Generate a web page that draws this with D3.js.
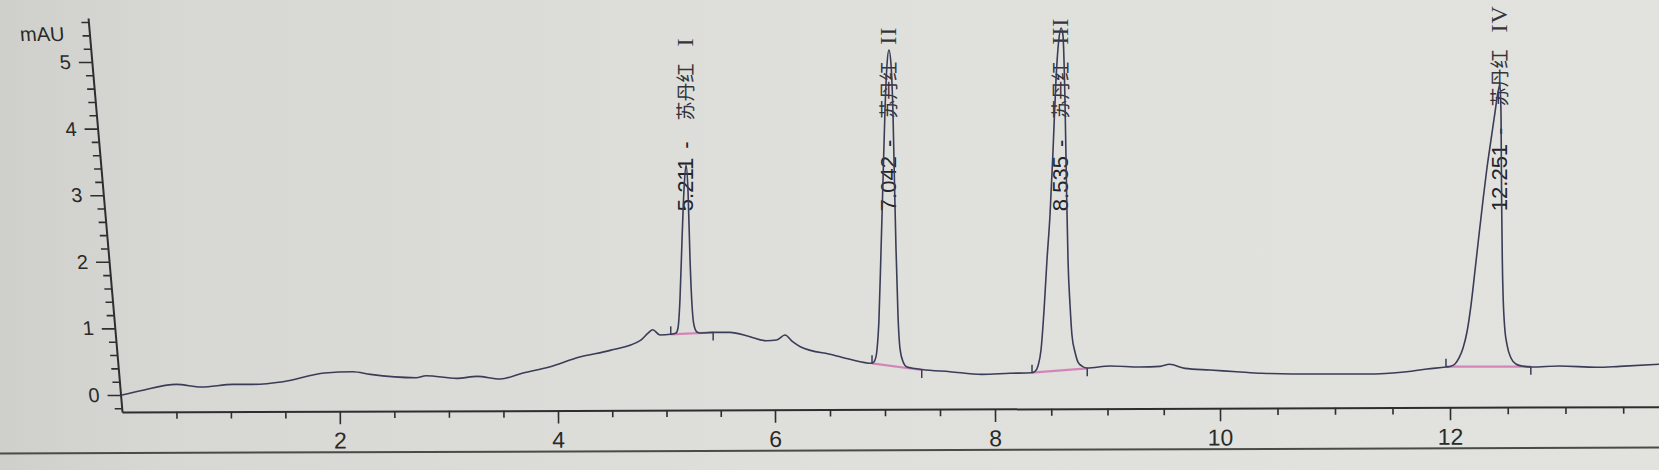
<!DOCTYPE html>
<html><head><meta charset="utf-8">
<script src="https://cdn.jsdelivr.net/npm/d3@7"></script>
<style>html,body{margin:0;padding:0;background:#dcddd8;overflow:hidden}</style>
</head><body>
<svg id="chart" width="1659" height="470"></svg>
<script>
// ---- data ----
const timeMajorTicks = [2, 4, 6, 8, 10, 12];
const timeMinorTicks = [0.5, 1, 1.5, 2.5, 3, 3.5, 4.5, 5, 5.5, 6.5, 7, 7.5, 8.5, 9, 9.5, 10.5, 11, 11.5, 12.5, 13, 13.5];
const absMajorTicks = [0, 1, 2, 3, 4, 5];
const absMinorTicks = [-0.2, 0.2, 0.4, 0.6, 0.8, 1.2, 1.4, 1.6, 1.8, 2.2, 2.4, 2.6, 2.8, 3.2, 3.4, 3.6, 3.8, 4.2, 4.4, 4.6, 4.8, 5.2, 5.4, 5.6];
const yUnit = "mAU";

// chromatogram signal: [time (min), absorbance (mAU)]
const signal = [
  [0.00,0.00],[0.17,0.065],[0.50,0.16],[0.73,0.12],[1.02,0.16],[1.20,0.16],[1.48,0.20],[1.86,0.33],
  [2.12,0.35],[2.28,0.31],[2.70,0.26],[2.79,0.29],[3.07,0.25],[3.26,0.28],[3.47,0.24],[3.68,0.33],
  [3.92,0.42],[4.20,0.57],[4.48,0.67],[4.76,0.82],[4.83,0.93],[4.873,0.98],[4.94,0.90],
  [5.039,0.911],[5.088,0.931],[5.106,1.006],[5.124,1.426],[5.143,2.327],[5.161,3.078],[5.180,3.453],
  [5.198,3.078],[5.217,2.027],[5.235,1.351],[5.253,1.051],[5.281,0.946],[5.309,0.931],
  [5.43,0.94],[5.585,0.94],[5.77,0.875],[5.92,0.815],[6.015,0.826],[6.09,0.90],[6.16,0.80],
  [6.23,0.725],[6.53,0.60],[6.68,0.536],
  [6.882,0.476],[6.909,0.526],[6.927,0.676],[6.945,1.126],[6.964,2.177],[6.982,3.228],[7.000,4.279],
  [7.018,4.955],[7.036,5.180],[7.055,4.955],[7.073,4.20],[7.086,3.20],[7.100,2.20],[7.118,1.20],
  [7.136,0.70],[7.164,0.50],[7.200,0.42],[7.273,0.398],[7.336,0.383],
  [7.591,0.35],[7.879,0.31],[8.133,0.326],
  [8.329,0.335],[8.356,0.353],[8.382,0.435],[8.409,0.676],[8.436,1.276],[8.462,2.027],[8.489,2.703],
  [8.516,3.679],[8.542,4.730],[8.569,5.360],[8.587,5.511],[8.604,5.405],[8.622,4.429],[8.636,3.078],
  [8.649,2.027],[8.667,1.351],[8.684,0.901],[8.711,0.646],[8.738,0.495],[8.773,0.435],[8.818,0.405],
  [9.022,0.435],[9.289,0.42],[9.467,0.43],[9.552,0.461],[9.689,0.40],[9.911,0.375],[10.144,0.35],
  [10.365,0.326],[10.817,0.315],[11.265,0.315],[11.623,0.35],[11.80,0.39],
  [11.965,0.42],[12.000,0.428],[12.043,0.465],[12.078,0.556],[12.113,0.706],[12.147,0.946],
  [12.182,1.351],[12.217,1.877],[12.251,2.402],[12.286,2.928],[12.320,3.408],[12.355,3.829],
  [12.390,4.249],[12.416,4.55],[12.433,4.66],[12.442,4.20],[12.447,2.928],[12.453,2.027],
  [12.461,1.426],[12.472,1.051],[12.494,0.751],[12.528,0.556],[12.571,0.465],[12.623,0.435],
  [12.710,0.420],[12.95,0.435],[13.27,0.416],[13.47,0.43],[13.81,0.461]
];

// integration baseline start / end points [time, mAU]
const integStart = [[5.039,0.911],[6.882,0.476],[8.329,0.335],[11.965,0.425]];
const integEnd   = [[5.43,0.94],[7.334,0.375],[8.82,0.40],[12.70,0.425]];

// peak annotations
const peakRT = ["5.211", "7.042", "8.535", "12.251"];
const peakName = ["苏丹红", "苏丹红", "苏丹红", "苏丹红"];
const peakNumeral = ["I", "II", "III", "IV"];

// ---- drawing ----
const W = 1659, H = 470;
const svg = d3.select("#chart");
const LABEL_LEVEL = 2.76;

// background (photographed paper)
const defs = svg.append("defs");
const grad = defs.append("linearGradient").attr("id","bg").attr("x1","0").attr("x2","1").attr("y1","0").attr("y2","0");
[[0,"#cfd0cb"],[0.1,"#d7d8d3"],[0.5,"#dfe0db"],[1,"#e2e3de"]].forEach(s =>
  grad.append("stop").attr("offset", s[0]).attr("stop-color", s[1]));
svg.append("rect").attr("width", W).attr("height", H).attr("fill", "url(#bg)");

const x = d3.scaleLinear().domain([0,2,4,6,8,10,12,13.81]).range([122,339.8,558,775,995,1220,1450,1659]);
const y = d3.scaleLinear().domain([0,5]).range([395,62]);
const axisY0 = 412;
const yAxisScale = d3.scaleLinear().domain([y.invert(axisY0), 5.66]).range([axisY0, y(5.66)]);

const ink = "#2e2e30";
const tickFont = "'Liberation Sans', Arial, sans-serif";

// x axis (slightly tilted like the photo)
const gx = svg.append("g").attr("transform", `rotate(-0.2,122,${axisY0}) translate(0,${axisY0})`);
gx.append("g").call(d3.axisBottom(x).tickValues(timeMinorTicks).tickSize(7).tickSizeOuter(0).tickFormat(""));
const gxMajor = gx.append("g").call(d3.axisBottom(x).tickValues(timeMajorTicks).tickSize(13).tickSizeOuter(0).tickPadding(8).tickFormat(d3.format("d")));
gxMajor.select(".domain").remove();
gx.selectAll(".domain").attr("stroke", ink).attr("stroke-width", 2);
gx.selectAll(".tick line").attr("stroke", ink).attr("stroke-width", 1.6);
gx.selectAll(".tick text").attr("fill", "#2a2a2a").style("font-family", tickFont).style("font-size", "23px");

// y axis (leaning like the photo)
const gy = svg.append("g").attr("transform", `translate(122,${axisY0}) skewX(4.93) translate(-122,${-axisY0})`);
const gyIn = gy.append("g").attr("transform", "translate(122,0)");
gyIn.append("g").call(d3.axisLeft(yAxisScale).tickValues(absMinorTicks).tickSize(7).tickSizeOuter(0).tickFormat(""));
const gyMajor = gyIn.append("g").call(d3.axisLeft(yAxisScale).tickValues(absMajorTicks).tickSize(13).tickSizeOuter(0).tickPadding(8).tickFormat(d3.format("d")));
gyMajor.select(".domain").remove();
gyIn.selectAll(".domain").attr("stroke", ink).attr("stroke-width", 2);
gyIn.selectAll(".tick line").attr("stroke", ink).attr("stroke-width", 1.6);
gyIn.selectAll(".tick text").attr("fill", "#2a2a2a").style("font-family", tickFont).style("font-size", "20px");
gyIn.append("text").attr("x", -25).attr("y", 41).attr("text-anchor", "end")
  .attr("fill", "#2a2a2a").style("font-family", tickFont).style("font-size", "20px").text(yUnit);

// bottom frame line of the printout
svg.append("line").attr("x1", 0).attr("y1", 453.5).attr("x2", W).attr("y2", 447.5)
  .attr("stroke", "#4a4a48").attr("stroke-width", 2);

// peak labels
const gl = svg.append("g");
peakRT.forEach((rt, i) => {
  const s = integStart[i][0], e = integEnd[i][0];
  const apex = signal.filter(d => d[0] >= s && d[0] <= e).reduce((a, b) => b[1] > a[1] ? b : a);
  const t = gl.append("text")
    .attr("transform", `translate(${x(apex[0]) - 1},${y(LABEL_LEVEL)}) rotate(-90)`)
    .attr("fill", "#23232b");
  t.append("tspan").attr("dy", "0.36em").style("font-family", tickFont).style("font-size", "22px").text(rt);
  t.append("tspan").attr("dx", 9).style("font-family", tickFont).style("font-size", "22px").text("-");
  t.append("tspan").attr("dx", 21).style("font-family", "'Noto Sans CJK SC', sans-serif").style("font-size", "19px").attr("fill", "#34343c").text(peakName[i]);
  t.append("tspan").attr("dx", 17).style("font-family", "'Liberation Serif', serif").style("font-size", "24px")
    .style("letter-spacing", "1px").attr("fill", "#34343c").text(peakNumeral[i]);
});

// integration baselines
const gb = svg.append("g");
integStart.forEach((p, i) => {
  const q = integEnd[i];
  gb.append("line").attr("x1", x(p[0])).attr("y1", y(p[1])).attr("x2", x(q[0])).attr("y2", y(q[1]))
    .attr("stroke", "#d27cb6").attr("stroke-width", 2.2).attr("opacity", 0.9);
});

// signal trace
const line = d3.line().x(d => x(d[0])).y(d => y(d[1])).curve(d3.curveMonotoneX);
svg.append("path").datum(signal).attr("d", line).attr("fill", "none")
  .attr("stroke", "#3a3c58").attr("stroke-width", 1.6).attr("stroke-linejoin", "round");

// integration start (up) / end (down) marks
const gm = svg.append("g").attr("stroke", "#3a3c58").attr("stroke-width", 1.5);
integStart.forEach(p => gm.append("line").attr("x1", x(p[0])).attr("x2", x(p[0])).attr("y1", y(p[1])).attr("y2", y(p[1]) - 8));
integEnd.forEach(p => gm.append("line").attr("x1", x(p[0])).attr("x2", x(p[0])).attr("y1", y(p[1])).attr("y2", y(p[1]) + 8));
</script>
</body></html>
